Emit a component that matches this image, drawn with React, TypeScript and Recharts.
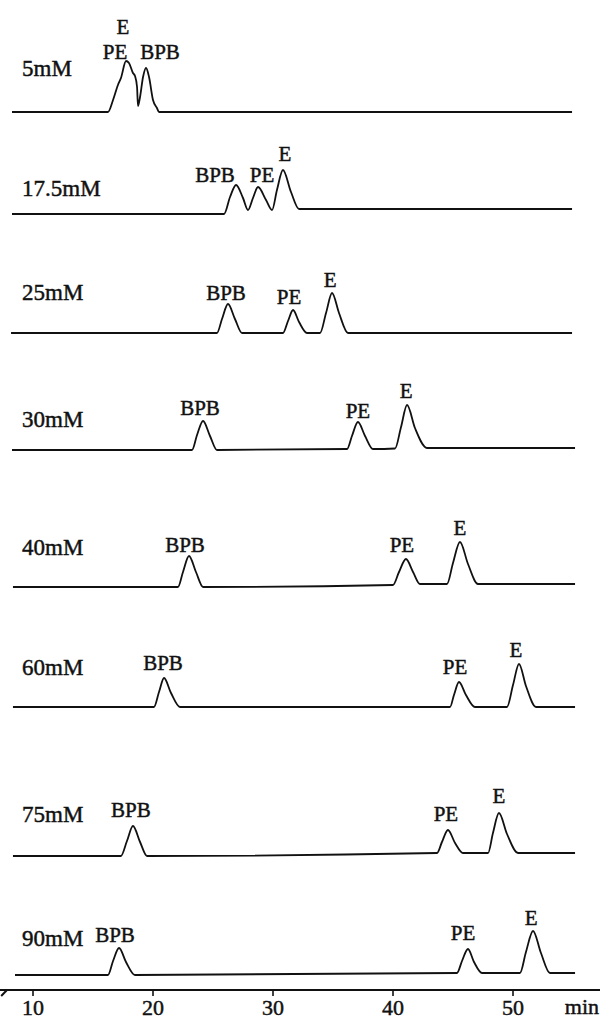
import React from 'react';
import { ComposedChart, Line, XAxis, YAxis, ReferenceDot, ReferenceLine, Label } from 'recharts';

// ---------- data ----------
const concentrations = ['5mM', '17.5mM', '25mM', '30mM', '40mM', '60mM', '75mM', '90mM'];
const timeTicks = [10, 20, 30, 40, 50];

// [retention time (min), detector signal (arb. units)]
const trace5mM: [number, number][] = [
  [8.25, 0], [16.25, 0], [16.67, 12], [17.08, 27], [17.33, 34], [17.75, 51], [18.0, 49], [18.33, 39],
  [18.5, 36], [18.67, 25], [18.75, 6], [18.92, 15], [19.17, 35], [19.42, 44], [19.67, 35], [20.0, 12],
  [20.33, 4], [20.5, 0], [54.92, 0],
];
const trace17_5mM: [number, number][] = [
  [8.25, 0], [25.92, 0], [26.42, 17], [26.92, 29], [27.5, 16], [27.92, 4], [28.33, 16], [28.75, 27],
  [29.42, 14], [29.92, 4], [30.33, 24], [30.83, 44], [31.5, 22], [32.17, 5], [54.92, 5],
];
const trace25mM: [number, number][] = [
  [8.17, 0], [25.33, 0], [25.75, 14], [26.25, 29], [26.83, 14], [27.42, 0], [30.83, 0], [31.25, 12],
  [31.67, 23], [32.17, 11], [32.83, 0], [33.92, 0], [34.42, 20], [34.92, 40], [35.5, 20], [36.25, 0],
  [54.92, 0],
];
const trace30mM: [number, number][] = [
  [8.25, 0], [23.25, 0], [23.67, 15], [24.17, 29], [24.75, 14], [25.33, 0], [36.17, 1], [36.58, 14],
  [37.08, 28], [37.67, 14], [38.33, 1], [40.17, 1.5], [40.67, 23], [41.17, 45], [41.83, 22], [42.83, 2],
  [55.17, 2],
];
const trace40mM: [number, number][] = [
  [8.33, 0], [22.08, 0], [22.5, 15], [23.0, 31], [23.58, 15], [24.17, 0], [40.0, 2], [40.5, 15],
  [41.08, 28], [41.67, 15], [42.25, 3], [44.5, 3], [45.0, 24], [45.58, 45], [46.25, 23], [47.08, 3],
  [55.17, 3],
];
const trace60mM: [number, number][] = [
  [8.33, 0], [20.08, 0], [20.5, 15], [20.92, 29], [21.5, 14], [22.25, 0], [44.75, 0], [45.08, 12],
  [45.5, 25], [46.08, 12], [46.83, 0], [49.5, 0], [50.0, 22], [50.5, 43], [51.08, 21], [51.92, 0],
  [55.17, 0],
];
const trace75mM: [number, number][] = [
  [8.33, 0], [17.33, 0], [17.83, 15], [18.33, 30], [18.92, 14], [19.5, 0], [43.67, 3], [44.08, 14],
  [44.58, 26], [45.17, 13], [45.83, 3], [47.92, 3], [48.33, 23], [48.83, 43], [49.5, 22], [50.42, 3],
  [55.17, 3],
];
const trace90mM: [number, number][] = [
  [8.5, 0], [16.25, 0], [16.67, 14], [17.17, 27], [17.75, 13], [18.5, 0], [45.33, 2], [45.75, 14],
  [46.25, 26], [46.75, 13], [47.42, 2], [50.58, 2], [51.08, 23], [51.67, 44], [52.33, 22], [53.08, 2],
  [55.17, 2],
];

// peak apexes: [name, time, signal]
const peaks5mM: [string, number, number][] = [['E', 17.75, 51], ['PE', 17.75, 51], ['BPB', 19.42, 44]];
const peaks17_5mM: [string, number, number][] = [['BPB', 26.92, 29], ['PE', 28.75, 27], ['E', 30.83, 44]];
const peaks25mM: [string, number, number][] = [['BPB', 26.25, 29], ['PE', 31.67, 23], ['E', 34.92, 40]];
const peaks30mM: [string, number, number][] = [['BPB', 24.17, 29], ['PE', 37.08, 28], ['E', 41.17, 45]];
const peaks40mM: [string, number, number][] = [['BPB', 23.0, 31], ['PE', 41.08, 28], ['E', 45.58, 45]];
const peaks60mM: [string, number, number][] = [['BPB', 20.92, 29], ['PE', 45.5, 25], ['E', 50.5, 43]];
const peaks75mM: [string, number, number][] = [['BPB', 18.33, 30], ['PE', 44.58, 26], ['E', 48.83, 43]];
const peaks90mM: [string, number, number][] = [['BPB', 17.17, 27], ['PE', 46.25, 26], ['E', 51.67, 44]];

// ---------- layout ----------
const W = 600;
const H = 1020;
const AXIS_H = 30;
const X_DOMAIN: [number, number] = [7.25, 57.25];
const Y_DOMAIN: [number, number] = [0, H - AXIS_H];
const baselineOffsets = [878, 776, 657, 540, 403, 283, 134, 15];
const concLabelRise = [44, 26, 41, 31, 40, 40, 42, 37];
const peakLabelNudge: [number, number][][] = [
  [[-3, -34], [-11, -9], [14, -16]],
  [[-21, -10], [4, -12], [2, -16]],
  [[-2, -11], [-4, -13], [-2, -13]],
  [[-3, -13], [0, -11], [-1, -14]],
  [[-4, -11], [-4, -14], [0, -14]],
  [[-1, -15], [-4, -15], [-3, -14]],
  [[-2, -16], [-2, -16], [0, -17]],
  [[-4, -13], [-5, -16], [-2, -13]],
];
const FONT = '"Times New Roman", "Liberation Serif", "Nimbus Roman", "DejaVu Serif", serif';
const INK = '#111';
const textStyle = { fontFamily: FONT };
const TEXT_STROKE = 0.45;

const traces = [trace5mM, trace17_5mM, trace25mM, trace30mM, trace40mM, trace60mM, trace75mM, trace90mM];
const peakSets = [peaks5mM, peaks17_5mM, peaks25mM, peaks30mM, peaks40mM, peaks60mM, peaks75mM, peaks90mM];

const seriesData = traces.map((pts, i) =>
  pts.map(([t, s]) => ({ t, v: s + baselineOffsets[i] }))
);

export default function App() {
  return (
    <div style={{ position: 'absolute', left: 0, top: 0, width: W, height: H, background: '#fff', fontFamily: FONT }}>
      <ComposedChart width={W} height={H} margin={{ top: 0, right: 0, bottom: 0, left: 0 }} style={textStyle}>
        <XAxis
          type="number"
          dataKey="t"
          domain={X_DOMAIN}
          ticks={timeTicks}
          allowDataOverflow
          height={AXIS_H}
          tickSize={6}
          tickMargin={3}
          axisLine={{ stroke: INK, strokeWidth: 2.2 }}
          tickLine={{ stroke: INK, strokeWidth: 1.6 }}
          tick={{ fontSize: 22, fill: INK, fontFamily: FONT, style: textStyle, stroke: INK, strokeWidth: TEXT_STROKE }}
        >
          <Label
            content={(props: any) => {
              const vb = props.viewBox || { x: 0, y: H - AXIS_H, width: W };
              return (
                <text
                  x={vb.x + vb.width - 1}
                  y={vb.y + 24}
                  textAnchor="end"
                  fontSize={22}
                  fontFamily={FONT}
                  style={textStyle}
                  fill={INK}
                  stroke={INK}
                  strokeWidth={TEXT_STROKE}
                >
                  min
                </text>
              );
            }}
          />
        </XAxis>
        <YAxis type="number" domain={Y_DOMAIN} hide allowDataOverflow />
        <ReferenceLine
          segment={[{ x: 7.83, y: 0 }, { x: 7.35, y: -6 }]}
          stroke={INK}
          strokeWidth={2}
          ifOverflow="visible"
        />
        {seriesData.map((d, i) => (
          <Line
            key={concentrations[i]}
            data={d}
            dataKey="v"
            type="monotone"
            stroke={INK}
            strokeWidth={1.8}
            dot={false}
            activeDot={false}
            isAnimationActive={false}
          />
        ))}
        {concentrations.map((c, i) => (
          <ReferenceDot
            key={'c' + c}
            x={X_DOMAIN[0]}
            y={baselineOffsets[i]}
            r={0}
            ifOverflow="visible"
            shape={(p: any) => (
              <text
                x={p.cx + 22}
                y={p.cy - concLabelRise[i] + 7.6}
                fontSize={23}
                fontFamily={FONT}
                style={textStyle}
                fill={INK}
                stroke={INK}
                strokeWidth={TEXT_STROKE}
              >
                {c}
              </text>
            )}
          />
        ))}
        {peakSets.map((ps, i) =>
          ps.map(([name, t, s], j) => (
            <ReferenceDot
              key={'p' + i + '-' + j}
              x={t}
              y={s + baselineOffsets[i]}
              r={0}
              ifOverflow="visible"
              shape={(p: any) => (
                <text
                  x={p.cx + peakLabelNudge[i][j][0]}
                  y={p.cy + peakLabelNudge[i][j][1] + 7}
                  textAnchor="middle"
                  fontSize={21}
                  fontFamily={FONT}
                  style={textStyle}
                  fill={INK}
                  stroke={INK}
                  strokeWidth={TEXT_STROKE}
                >
                  {name}
                </text>
              )}
            />
          ))
        )}
      </ComposedChart>
    </div>
  );
}
